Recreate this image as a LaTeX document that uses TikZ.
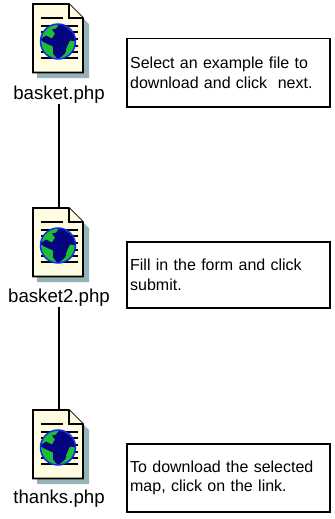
\documentclass[tikz,border=0pt]{standalone}
\usepackage{fontspec}
\setmainfont{Liberation Sans}
\definecolor{docpaper}{RGB}{255,252,225}
\definecolor{docshadow}{RGB}{150,178,182}
\definecolor{globeblue}{RGB}{20,40,240}
\definecolor{globegreen}{RGB}{30,190,50}
\definecolor{globeland}{RGB}{5,5,130}
\tikzset{
  x=0.75pt,y=-0.75pt,
  docbox/.style={minimum width=37.5pt,minimum height=51pt,inner sep=0pt,outer sep=0pt,anchor=north},
  filelabel/.style={font=\fontsize{14}{16}\selectfont,inner sep=0pt,outer sep=0pt,minimum height=15pt,text height=10.5pt,text depth=3pt},
  notebox/.style={draw=black,line width=1pt,rectangle,minimum width=152.25pt,inner sep=0pt,outer sep=0pt,
    text width=147.5pt,align=left,font=\fontsize{12}{14.7}\selectfont},
  link/.style={draw=black,line width=1.15pt},
  docline/.style={black,line width=0.8pt},
  docoutline/.style={draw=black,line width=1.15pt,line join=miter}
}
\newcommand{\pageicon}[3]{% name, cx, top
  \begin{scope}[shift={(#2,#3)}]
    \fill[docshadow] (-22,6) -- (16,6) -- (30,20) -- (30,74) -- (-22,74) -- cycle;
    \path[fill=docpaper,docoutline] (-26,0) -- (10,0) -- (24,14) -- (24,68.5) -- (-26,68.5) -- cycle;
    \path[fill=docpaper,docoutline] (10,0) -- (10,14) -- (24,14);
    \draw[docline] (-18,14) -- (4,14);
    \foreach \yy in {22,28,35,42,48,54}{\draw[docline] (-18,\yy) -- (19,\yy);}
    \begin{scope}[shift={(-1,37.5)}]
      \fill[globegreen] (0,0) circle (17.5);
      \begin{scope}
        \clip (0,0) circle (17.5);
        \fill[globeland] (2,-18) .. controls (8,-15) and (12,-12) .. (18,-5)
          -- (17,2) -- (10,3) .. controls (8,8) and (9,10) .. (7,12) -- (0,18)
          -- (-5,12) -- (-5,5) .. controls (-8,3) and (-12,3) .. (-18,-2)
          -- (-12,-6) -- (-6,-3) -- (-3,-8) -- (-6,-12) -- (-2,-13) -- cycle;
        \fill[globegreen] (12,-1) -- (17,0) -- (15,8) -- (10,12) -- (8,8) -- cycle;
      \end{scope}
      \draw[globeblue,line width=1.1pt] (0,0) circle (17.5);
    \end{scope}
  \end{scope}
}
\begin{document}
\begin{tikzpicture}
  \useasboundingbox (0,0) rectangle (335,519);
  \node[docbox] (doc1) at (59,4) {};
  \node[docbox] (doc2) at (59,208) {};
  \node[docbox] (doc3) at (59,410) {};
  \pageicon{doc1}{59}{4}
  \pageicon{doc2}{59}{208}
  \pageicon{doc3}{59}{410}
  \node[filelabel] (lab1) at (59,94) {basket.php};
  \node[filelabel] (lab2) at (59,297) {basket2.php};
  \node[filelabel] (lab3) at (59,498) {thanks.php};
  \draw[link] (lab1.south) -- (doc2.north);
  \draw[link] (lab2.south) -- (doc3.north);
  \node[notebox,minimum height=51.5pt] (note1) at (228.5,72.5) {Select an example file to\\download and click\ \ next.};
  \node[notebox,minimum height=49.5pt] (note2) at (228.5,275) {Fill in the form and click\\submit.};
  \node[notebox,minimum height=51pt] (note3) at (228.5,478) {To download the selected\\map, click on the link.};
\end{tikzpicture}
\end{document}
